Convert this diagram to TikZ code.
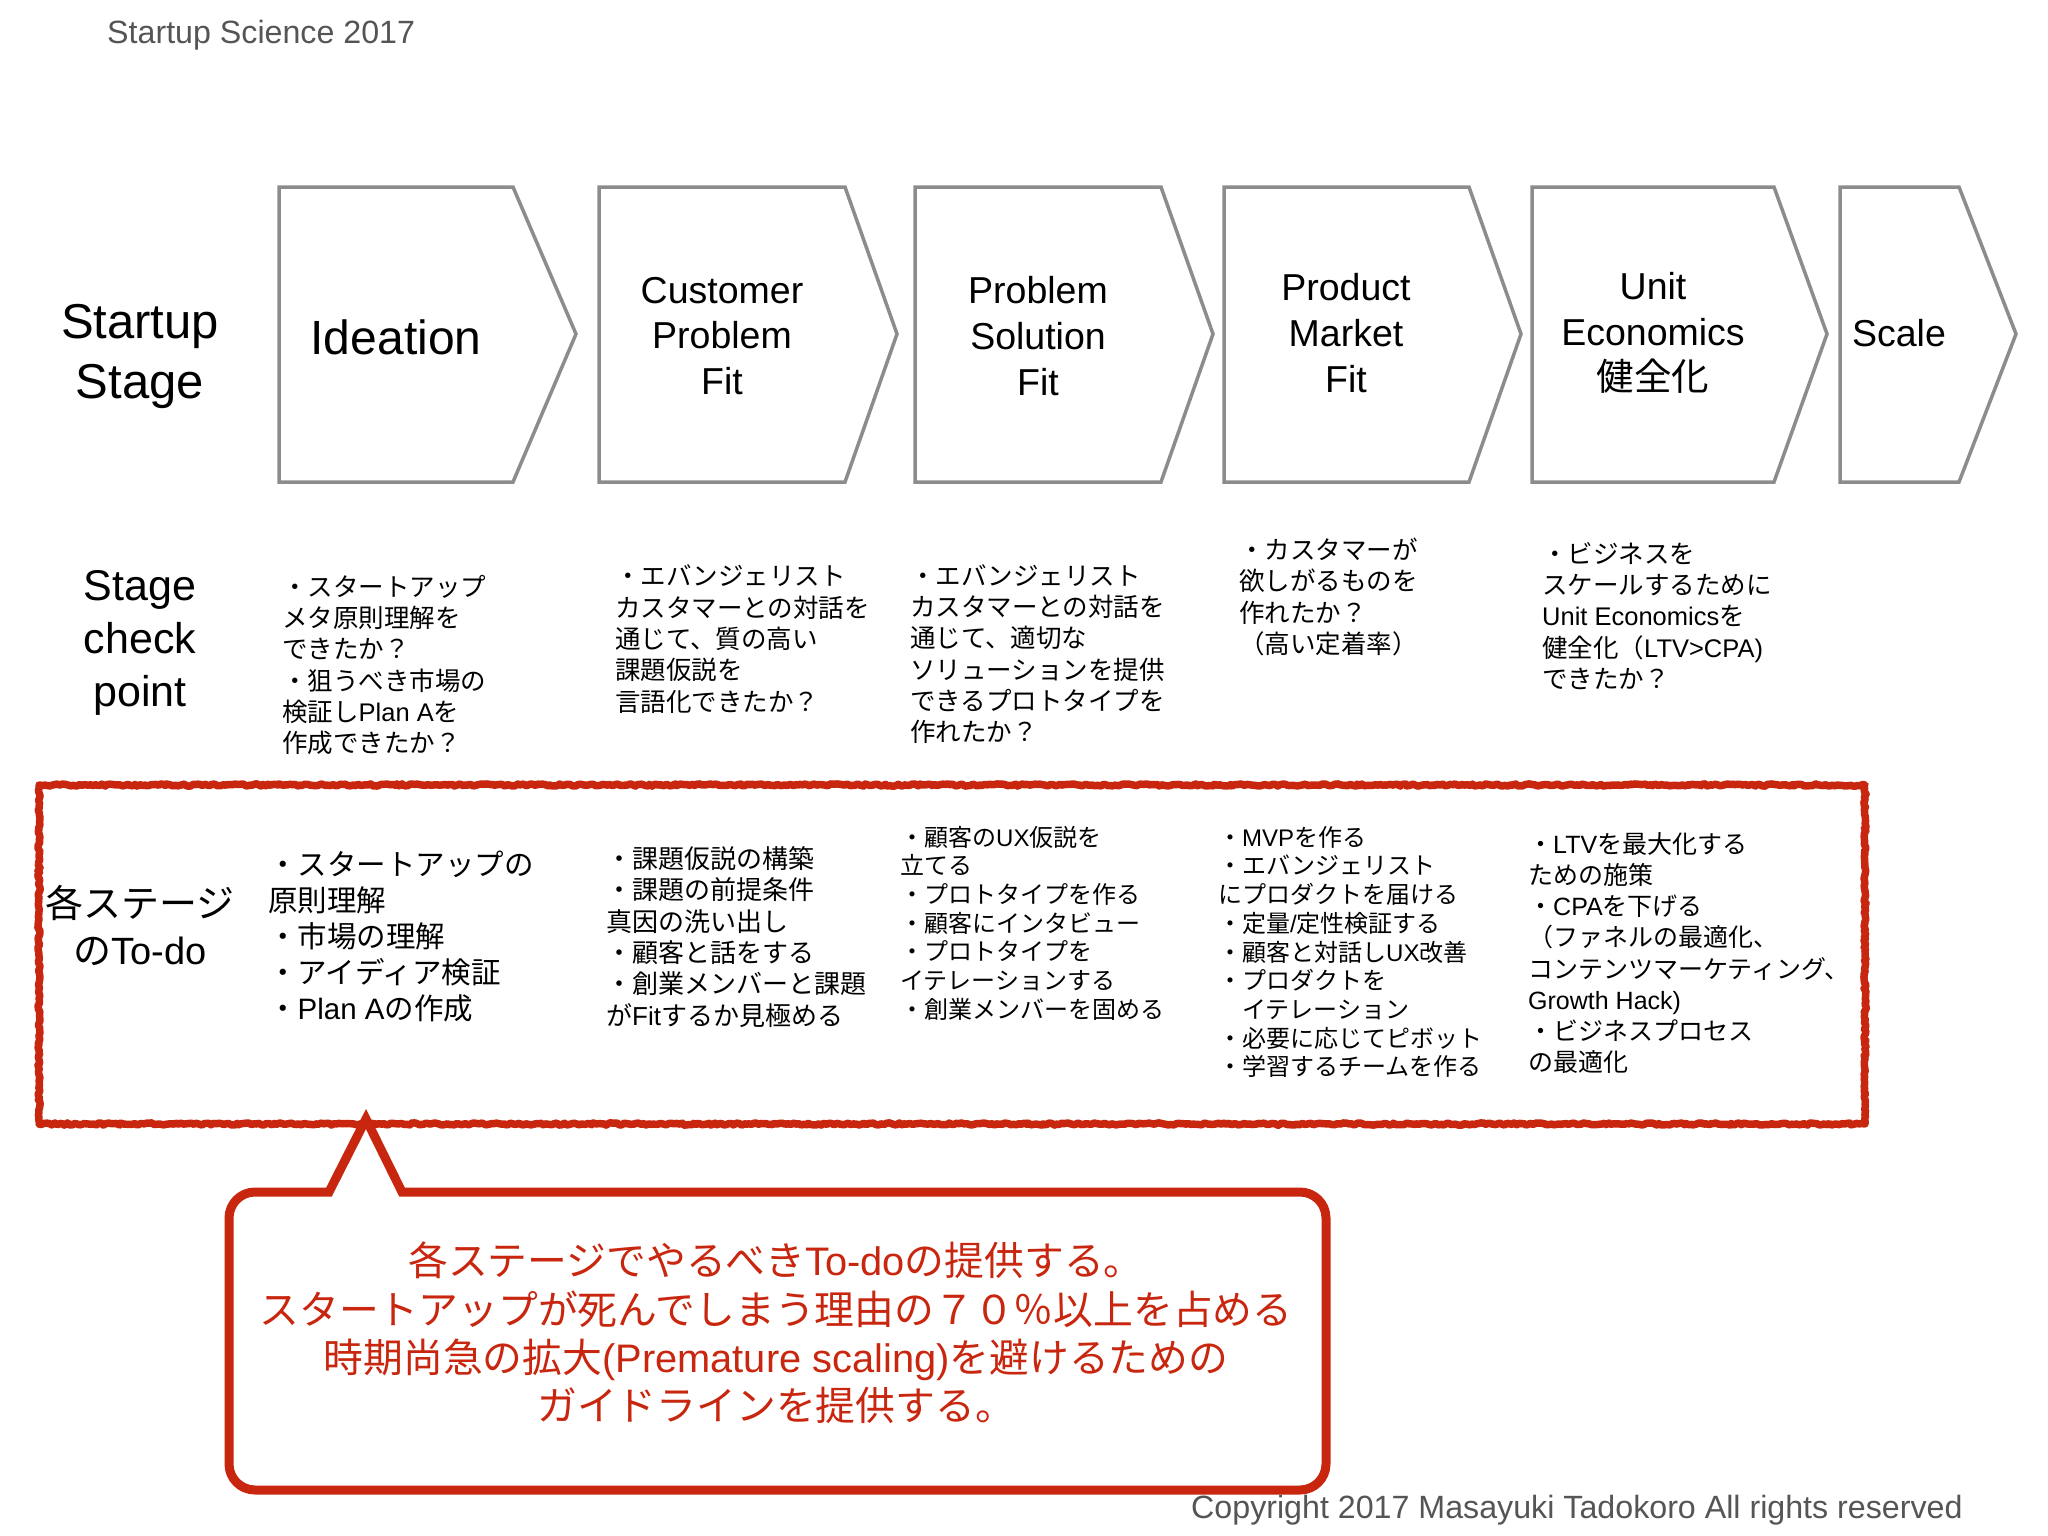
\documentclass[tikz,border=0pt]{standalone}
\usepackage{fontspec}
\setmainfont{Liberation Sans}
\newfontfamily\jpfont{Noto Sans CJK JP}
\newfontfamily\enfont{Liberation Sans}
\usepackage{tikz}
\usetikzlibrary{decorations.pathmorphing}

% switch to the Japanese font for CJK characters
\XeTeXinterchartokenstate=1
\newXeTeXintercharclass\jpclass
\newcount\jpcnt
\jpcnt="3000
\loop\XeTeXcharclass\jpcnt=\jpclass\ifnum\jpcnt<"9FFF\advance\jpcnt by 1\repeat
\jpcnt="FF00
\loop\XeTeXcharclass\jpcnt=\jpclass\ifnum\jpcnt<"FFEF\advance\jpcnt by 1\repeat
\XeTeXinterchartoks 0 \jpclass = {\jpfont}
\XeTeXinterchartoks 4095 \jpclass = {\jpfont}
\XeTeXinterchartoks \jpclass 0 = {\enfont}
\XeTeXinterchartoks \jpclass 4095 = {\enfont}

\definecolor{slidered}{RGB}{200,38,14}
\definecolor{chevgray}{RGB}{140,140,140}
\definecolor{notegray}{RGB}{85,85,85}

\begin{document}
\begin{tikzpicture}[x=1pt,y=-1pt,
    stagebox/.style={draw=chevgray, line width=3.5pt, line join=miter},
    stagename/.style={align=center, inner sep=0pt, font=\fontsize{37.5}{45.7}\selectfont},
    rowhead/.style={align=center, inner sep=0pt},
    checktext/.style={align=left, anchor=west, inner sep=0pt, font=\fontsize{25.5}{31.3}\selectfont},
    todotext/.style={align=left, anchor=west, inner sep=0pt},
    todoframe/.style={draw=slidered, line width=7.5pt, line join=round, decorate,
      decoration={random steps, segment length=2.5pt, amplitude=1.1pt}},
    callout/.style={draw=slidered, line width=9pt, fill=white, line join=miter},
    graytext/.style={anchor=west, inner sep=0pt, text=notegray, font=\fontsize{32.2}{36}\selectfont}]
    \useasboundingbox (0,0) rectangle (2048,1536);
    \pgfmathsetseed{7}

    \node[graytext] (header) at (107,35) {Startup Science 2017};

    % stage chevrons
    \foreach \l/\r/\t in {279/513/576, 599/845/897, 915/1161/1213, 1224/1469/1521, 1532/1774/1827, 1840/1959/2016}
      \draw[stagebox] (\l,187) -- (\r,187) -- (\t,334) -- (\r,482) -- (\l,482) -- cycle;

    \node[stagename, font=\fontsize{48}{58}\selectfont] (ideation) at (396,337) {Ideation};
    \node[stagename] (cpf) at (722,336) {Customer\\Problem\\Fit};
    \node[stagename] (psf) at (1038,336) {Problem\\Solution\\Fit};
    \node[stagename] (pmf) at (1346,333) {Product\\Market\\Fit};
    \node[stagename] (ue) at (1653,333) {Unit\\Economics\\健全化};
    \node[stagename] (scale) at (1899,333) {Scale};

    % row headings
    \node[rowhead, font=\fontsize{49}{60}\selectfont] (stagehead) at (140,356) {Startup\\Stage};
    \node[rowhead, font=\fontsize{43}{53}\selectfont] (checkhead) at (140,643) {Stage\\check\\point};

    % stage check points
    \node[checktext] (chk1) at (282,665) {・スタートアップ\\メタ原則理解を\\できたか？\\・狙うべき市場の\\検証しPlan Aを\\作成できたか？};
    \node[checktext] (chk2) at (615,639) {・エバンジェリスト\\カスタマーとの対話を\\通じて、質の高い\\課題仮説を\\言語化できたか？};
    \node[checktext] (chk3) at (910,654) {・エバンジェリスト\\カスタマーとの対話を\\通じて、適切な\\ソリューションを提供\\できるプロトタイプを\\作れたか？};
    \node[checktext] (chk4) at (1239,597) {・カスタマーが\\欲しがるものを\\作れたか？\\（高い定着率）};
    \node[checktext] (chk5) at (1542,616) {・ビジネスを\\スケールするために\\Unit Economicsを\\健全化（LTV>CPA)\\できたか？};

    % to-do frame
    \draw[todoframe] (39,785) rectangle (1865,1124);
    \node[rowhead, font=\fontsize{38}{47}\selectfont] (todohead) at (140,925) {各ステージ\\のTo-do};
    \node[todotext, font=\fontsize{29.5}{36}\selectfont] (todo1) at (268,937) {・スタートアップの\\原則理解\\・市場の理解\\・アイディア検証\\・Plan Aの作成};
    \node[todotext, font=\fontsize{26}{31.3}\selectfont] (todo2) at (606,937) {・課題仮説の構築\\・課題の前提条件\\真因の洗い出し\\・顧客と話をする\\・創業メンバーと課題\\がFitするか見極める};
    \node[todotext, font=\fontsize{24}{28.7}\selectfont] (todo3) at (900,923) {・顧客のUX仮説を\\立てる\\・プロトタイプを作る\\・顧客にインタビュー\\・プロトタイプを\\イテレーションする\\・創業メンバーを固める};
    \node[todotext, font=\fontsize{24}{28.7}\selectfont] (todo4) at (1218,952) {・MVPを作る\\・エバンジェリスト\\にプロダクトを届ける\\・定量/定性検証する\\・顧客と対話しUX改善\\・プロダクトを\\　イテレーション\\・必要に応じてピボット\\・学習するチームを作る};
    \node[todotext, font=\fontsize{25}{31.2}\selectfont] (todo5) at (1528,953) {・LTVを最大化する\\ための施策\\・CPAを下げる\\（ファネルの最適化、\\コンテンツマーケティング、\\Growth Hack)\\・ビジネスプロセス\\の最適化};

    % callout
    \draw[callout] (366,1119) -- (402,1192) -- (500,1192) [rounded corners=26pt] -- (1326,1192)
      -- (1326,1490) -- (229,1490) -- (229,1192) -- (300,1192) [sharp corners] -- (329,1192) -- cycle;
    \node[align=center, inner sep=0pt, text=slidered, font=\fontsize{39.8}{48.3}\selectfont] (note) at (776,1333)
      {各ステージでやるべきTo-doの提供する。\\スタートアップが死んでしまう理由の７０％以上を占める\\時期尚急の拡大(Premature scaling)を避けるための\\ガイドラインを提供する。};

    \node[graytext] (copyright) at (1191,1510) {Copyright 2017 Masayuki Tadokoro All rights reserved};
\end{tikzpicture}
\end{document}
